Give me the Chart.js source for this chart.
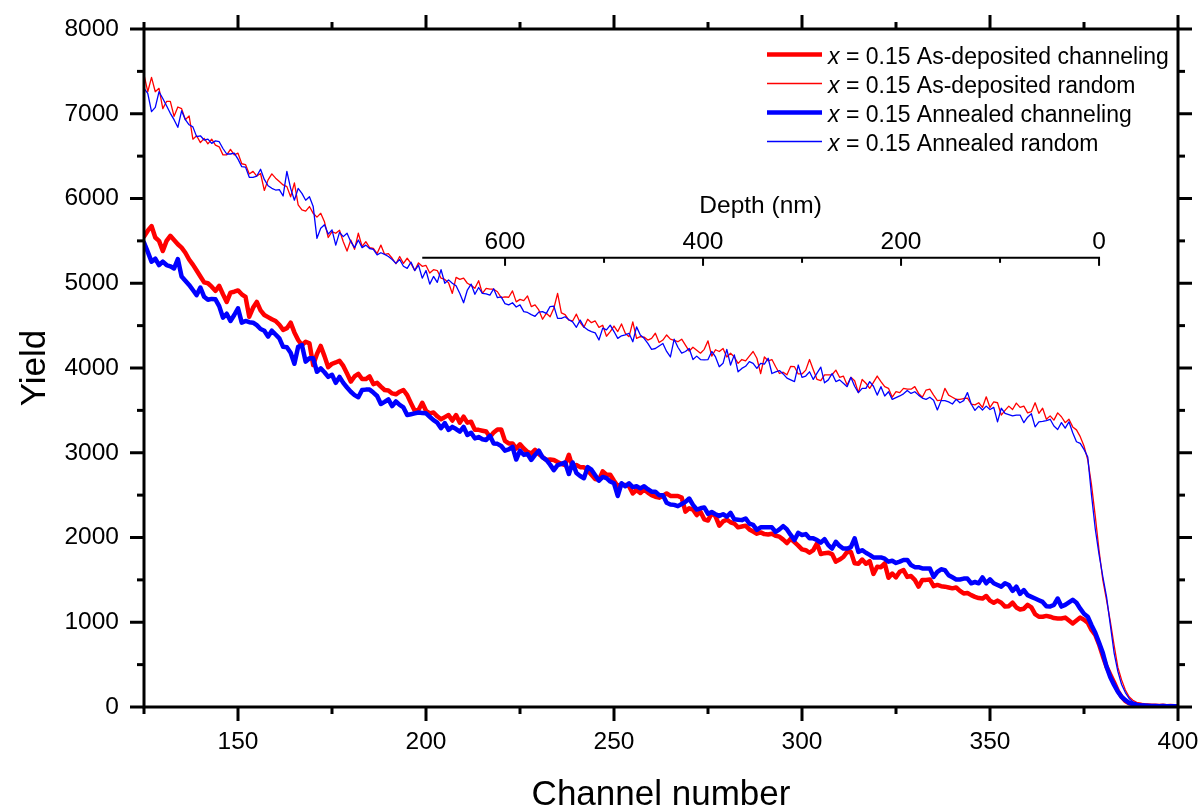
<!DOCTYPE html>
<html><head><meta charset="utf-8">
<script src="https://cdn.jsdelivr.net/npm/chart.js@4.4.1/dist/chart.umd.min.js"></script>
<style>html,body{margin:0;padding:0;background:#fff;overflow:hidden}</style>
</head><body>
<canvas id="c" width="1202" height="812" style="display:block;width:1202px;height:812px"></canvas>
<script>
// ---------------- DATA ----------------
const channelStart = 125, channelEnd = 400;
const channels = [];
for (let c = channelStart; c <= channelEnd; c++) channels.push(c);

const seriesLabels = [
  'x = 0.15 As-deposited channeling',
  'x = 0.15 As-deposited random',
  'x = 0.15 Annealed channeling',
  'x = 0.15 Annealed random'
];

const asDepChanneling = [
5550,5620,5675,5540,5500,5380,5500,5560,5510,5460,
5420,5360,5280,5220,5150,5080,5010,5000,4960,4910,
4970,4870,4780,4890,4900,4915,4870,4840,4605,4710,
4780,4680,4625,4600,4575,4555,4510,4450,4470,4535,
4420,4330,4270,4310,4290,4035,4165,4260,4140,4010,
4050,4065,4085,4025,3935,3840,3900,3930,3870,3870,
3900,3810,3825,3780,3740,3735,3700,3690,3720,3740,
3680,3585,3495,3505,3590,3495,3465,3475,3430,3395,
3420,3445,3380,3445,3355,3425,3355,3365,3270,3270,
3260,3250,3185,3240,3275,3275,3140,3110,3110,3050,
3100,3050,3010,2990,3035,2985,2950,2915,2920,2915,
2890,2870,2855,2975,2830,2855,2830,2830,2790,2740,
2690,2680,2780,2740,2740,2670,2605,2620,2620,2605,
2520,2560,2525,2565,2530,2500,2480,2470,2490,2520,
2490,2490,2490,2470,2305,2345,2330,2265,2305,2215,
2200,2290,2250,2140,2190,2210,2180,2165,2120,2130,
2140,2095,2070,2045,2060,2040,2035,2045,2020,2010,
1975,1935,1985,1945,1905,1860,1850,1820,1850,1930,
1805,1815,1820,1805,1715,1740,1770,1830,1830,1695,
1690,1740,1690,1720,1570,1655,1650,1695,1525,1575,
1530,1595,1615,1535,1545,1500,1420,1500,1500,1505,
1425,1440,1425,1420,1410,1400,1410,1370,1340,1345,
1320,1300,1285,1280,1310,1255,1230,1255,1230,1185,
1190,1230,1175,1150,1160,1205,1175,1095,1065,1065,
1075,1065,1050,1045,1045,1055,1020,985,1020,1055,
1030,995,910,850,740,600,475,380,290,190,
120,70,45,35,28,25,20,18,15,15,
12,15,10,12,10,8
];

const asDepRandom = [
7460,7260,7430,7260,7300,7060,7145,7145,6970,7080,
7060,6930,6975,6700,6740,6660,6710,6645,6700,6630,
6610,6515,6515,6580,6515,6535,6410,6400,6290,6320,
6265,6295,6095,6220,6290,6240,6200,6160,6140,6020,
6185,5925,5865,5850,5905,5825,5780,5825,5725,5540,
5610,5590,5625,5490,5380,5510,5400,5590,5435,5490,
5420,5410,5350,5450,5340,5350,5295,5230,5315,5235,
5295,5235,5150,5240,5200,5210,5120,5160,5150,5060,
5045,5005,4880,5070,5045,5060,5000,4975,4940,5030,
4880,4940,4930,4930,4900,4830,4840,4835,4910,4780,
4810,4795,4850,4725,4745,4685,4575,4645,4605,4705,
4880,4650,4630,4565,4555,4635,4535,4480,4575,4535,
4555,4480,4505,4375,4430,4495,4430,4520,4410,4370,
4545,4350,4370,4365,4330,4350,4410,4300,4330,4390,
4340,4325,4310,4340,4270,4200,4245,4210,4175,4220,
4320,4140,4215,4195,4230,4130,4175,4130,4055,4100,
4085,4140,4195,4115,3935,4130,4085,4100,4015,3935,
3950,3920,4020,4015,3930,3930,3975,4100,3980,3865,
3850,3920,3920,3920,3975,3890,3905,3800,3890,3850,
3710,3865,3820,3760,3830,3905,3840,3780,3760,3655,
3720,3710,3760,3750,3750,3780,3700,3655,3740,3750,
3680,3615,3620,3760,3680,3655,3630,3630,3640,3645,
3575,3565,3590,3535,3660,3535,3600,3590,3445,3500,
3550,3510,3585,3535,3550,3470,3485,3590,3465,3525,
3395,3435,3385,3470,3425,3355,3395,3305,3270,3190,
3080,2915,2620,2250,1850,1500,1260,1010,730,470,
320,200,120,80,55,45,35,30,28,25,
22,25,20,18,22,15
];

const annealedChanneling = [
5480,5370,5255,5290,5215,5255,5215,5200,5175,5285,
5080,5030,4980,4920,4860,4950,4840,4805,4815,4810,
4730,4595,4640,4555,4625,4705,4535,4555,4540,4535,
4505,4460,4440,4370,4440,4395,4350,4250,4245,4180,
4050,4250,4270,4075,4115,4115,3955,3995,3950,3895,
3920,3825,3895,3825,3770,3720,3680,3655,3740,3745,
3745,3710,3670,3575,3600,3630,3550,3605,3565,3535,
3445,3455,3465,3475,3470,3465,3425,3385,3355,3290,
3350,3270,3305,3280,3250,3305,3210,3235,3170,3185,
3160,3150,3200,3110,3105,3080,3025,3040,3070,2920,
3025,2975,2985,2915,2975,3025,2945,2915,2860,2795,
2855,2870,2885,2750,2885,2760,2725,2700,2830,2800,
2735,2670,2715,2700,2660,2640,2490,2640,2605,2640,
2595,2605,2580,2605,2570,2540,2540,2500,2500,2410,
2390,2385,2370,2395,2420,2460,2385,2330,2345,2355,
2280,2300,2275,2255,2275,2245,2290,2215,2210,2205,
2225,2165,2150,2090,2120,2120,2120,2120,2065,2095,
2135,2095,2030,1970,2055,2030,2040,1990,1990,1970,
1940,1980,1910,1870,1950,1900,1870,1870,1885,1990,
1830,1850,1820,1795,1765,1765,1765,1750,1715,1725,
1700,1715,1735,1735,1675,1650,1650,1635,1635,1635,
1535,1595,1625,1615,1555,1530,1505,1505,1515,1515,
1460,1475,1460,1530,1460,1505,1460,1440,1420,1460,
1440,1370,1420,1335,1380,1320,1300,1280,1260,1240,
1190,1185,1205,1280,1185,1205,1235,1265,1230,1160,
1100,1065,965,875,760,640,475,350,260,180,
120,80,50,35,25,20,18,15,12,12,
10,12,8,10,8,5
];

const annealedRandom = [
7300,7240,7025,7075,7260,7180,7095,7005,6930,6840,
7035,6930,6870,6845,6730,6740,6690,6700,6650,6680,
6670,6590,6525,6525,6535,6465,6375,6370,6250,6250,
6265,6345,6225,6150,6120,6100,6105,6030,6320,6120,
5980,6120,6060,5980,6020,5905,5530,5650,5690,5580,
5630,5450,5600,5550,5590,5490,5420,5510,5420,5450,
5410,5400,5335,5360,5340,5315,5280,5235,5280,5200,
5175,5250,5150,5215,5060,5150,4990,5080,5010,5160,
5000,5040,5000,4970,4880,4770,4920,4990,4870,4950,
4880,4875,4860,4935,4830,4840,4760,4745,4770,4720,
4745,4665,4655,4630,4610,4660,4665,4645,4725,4730,
4585,4585,4605,4570,4545,4480,4565,4485,4450,4430,
4415,4330,4470,4450,4505,4430,4350,4380,4390,4410,
4310,4485,4390,4350,4290,4220,4230,4260,4290,4195,
4130,4340,4245,4175,4195,4230,4100,4140,4100,4095,
4100,4195,4130,4015,4055,4220,4035,4155,3955,3995,
4020,4075,4055,3995,4055,4045,4115,3935,3955,3970,
3930,3880,3860,3840,4035,3890,3905,3955,3865,3940,
4010,3825,3860,3935,3840,3860,3820,3780,3890,3785,
3710,3760,3760,3840,3785,3680,3780,3670,3720,3630,
3650,3670,3695,3735,3700,3720,3680,3645,3630,3655,
3620,3505,3615,3615,3600,3575,3630,3590,3615,3710,
3575,3500,3550,3505,3550,3510,3535,3365,3525,3465,
3450,3435,3445,3445,3355,3420,3460,3305,3365,3370,
3380,3395,3315,3275,3355,3290,3365,3235,3130,3110,
3040,2950,2500,2100,1800,1540,1300,970,640,420,
265,170,100,60,45,35,30,25,22,20,
18,20,15,18,15,12
];

const xMajorTicks = [150, 200, 250, 300, 350, 400];
const xMinorTicks = [125, 175, 225, 275, 325, 375];
const yMajorTicks = [0, 1000, 2000, 3000, 4000, 5000, 6000, 7000, 8000];
const yMinorTicks = [500, 1500, 2500, 3500, 4500, 5500, 6500, 7500];

// secondary depth axis (nm)
const depthMajorTicks = [600, 400, 200, 0];
const depthMinorTicks = [500, 300, 100];
const depthSurfaceChannel = 379.0;   // channel at depth 0 nm
const depthNmPerChannel = 3.798;     // nm per channel
const depthAxisStartChannel = 199;   // left end of the depth axis
const depthAxisYield = 5300;         // vertical position of the depth axis (yield units)

// ---------------- CHART ----------------
const FONT = '"Liberation Sans", Arial, Helvetica, sans-serif';
const RED = '#ff0000', BLUE = '#0000ff';
const toPts = arr => channels.map((c, i) => ({x: c, y: arr[i]}));

const seriesStyles = [
  {data: asDepChanneling, color: RED, width: 4.5},
  {data: asDepRandom, color: RED, width: 1.3},
  {data: annealedChanneling, color: BLUE, width: 4.5},
  {data: annealedRandom, color: BLUE, width: 1.3}
];

// drawing order: red random, red channeling, blue random, blue channeling on top
const drawOrder = [2, 3, 0, 1];
const datasets = drawOrder.map(i => ({
  label: seriesLabels[i],
  data: toPts(seriesStyles[i].data),
  borderColor: seriesStyles[i].color,
  borderWidth: seriesStyles[i].width,
  pointRadius: 0,
  tension: 0,
  fill: false,
  borderJoinStyle: 'round',
  borderCapStyle: 'round'
}));

function line(ctx, x1, y1, x2, y2) {
  ctx.beginPath(); ctx.moveTo(x1, y1); ctx.lineTo(x2, y2); ctx.stroke();
}

const decor = {
  id: 'decor',
  afterDraw(chart) {
    const {ctx, chartArea: a} = chart;
    const xs = chart.scales.x, ys = chart.scales.y;
    ctx.save();
    ctx.strokeStyle = '#000';
    ctx.fillStyle = '#000';
    ctx.lineCap = 'butt';
    // frame
    ctx.lineWidth = 3;
    ctx.strokeRect(a.left, a.top, a.right - a.left, a.bottom - a.top);
    // ticks
    const MAJ = 14, MIN = 7;
    xMajorTicks.forEach(v => { const p = xs.getPixelForValue(v); line(ctx, p, a.bottom, p, a.bottom + MAJ); line(ctx, p, a.top, p, a.top - MAJ); });
    xMinorTicks.forEach(v => { const p = xs.getPixelForValue(v); line(ctx, p, a.bottom, p, a.bottom + MIN); line(ctx, p, a.top, p, a.top - MIN); });
    yMajorTicks.forEach(v => { const p = ys.getPixelForValue(v); line(ctx, a.left - MAJ, p, a.left, p); line(ctx, a.right, p, a.right + MAJ, p); });
    yMinorTicks.forEach(v => { const p = ys.getPixelForValue(v); line(ctx, a.left - MIN, p, a.left, p); line(ctx, a.right, p, a.right + MIN, p); });

    // depth axis
    const depthCh = d => depthSurfaceChannel - d / depthNmPerChannel;
    const dy = ys.getPixelForValue(depthAxisYield);
    const dx0 = xs.getPixelForValue(depthAxisStartChannel);
    const dx1 = xs.getPixelForValue(depthCh(0));
    ctx.lineWidth = 2;
    line(ctx, dx0, dy, dx1 + 1, dy);
    ctx.font = '24.5px ' + FONT;
    ctx.textAlign = 'center';
    ctx.textBaseline = 'alphabetic';
    depthMajorTicks.forEach(d => {
      const p = xs.getPixelForValue(depthCh(d));
      line(ctx, p, dy, p, dy + 8);
      ctx.fillText(String(d), p, dy - 9);
    });
    depthMinorTicks.forEach(d => {
      const p = xs.getPixelForValue(depthCh(d));
      line(ctx, p, dy, p, dy + 5);
    });
    ctx.fillText('Depth (nm)', (dx0 + dx1) / 2, dy - 45);

    // axis titles
    ctx.font = '35px ' + FONT;
    ctx.textAlign = 'center';
    ctx.fillText('Channel number', (a.left + a.right) / 2, 805);
    ctx.save();
    ctx.translate(45, (a.top + a.bottom) / 2);
    ctx.rotate(-Math.PI / 2);
    ctx.fillText('Yield', 0, 0);
    ctx.restore();

    // legend
    ctx.textAlign = 'left';
    seriesLabels.forEach((lab, i) => {
      const st = seriesStyles[i];
      const base = 63.5 + i * 29;
      ctx.strokeStyle = st.color;
      ctx.lineWidth = st.width;
      line(ctx, 767, base - 9, 822, base - 9);
      ctx.font = 'italic 23px ' + FONT;
      ctx.fillText(lab.charAt(0), 828, base);
      const w = ctx.measureText(lab.charAt(0)).width;
      ctx.font = '23px ' + FONT;
      ctx.fillText(lab.slice(1), 828 + w, base);
    });
    ctx.restore();
  }
};

Chart.defaults.font.family = FONT;
Chart.defaults.color = '#000';

new Chart(document.getElementById('c'), {
  type: 'line',
  data: {datasets},
  options: {
    responsive: false,
    animation: false,
    events: [],
    layout: {padding: 0},
    plugins: {legend: {display: false}, tooltip: {enabled: false}},
    scales: {
      x: {
        type: 'linear', position: 'bottom', min: channelStart, max: channelEnd,
        grid: {display: false, drawTicks: false, tickLength: 0},
        border: {display: false},
        afterBuildTicks: s => { s.ticks = xMajorTicks.map(v => ({value: v})); },
        afterFit: s => { s.height = 105; s.paddingLeft = 0; s.paddingRight = 0; },
        ticks: {font: {size: 24.5}, padding: 21, maxRotation: 0, autoSkip: false, callback: v => String(v)}
      },
      x2: {
        type: 'linear', position: 'top', min: channelStart, max: channelEnd,
        grid: {display: false, drawTicks: false}, border: {display: false},
        ticks: {display: false},
        afterFit: s => { s.height = 29; s.paddingLeft = 0; s.paddingRight = 0; }
      },
      y: {
        type: 'linear', position: 'left', min: 0, max: 8000,
        grid: {display: false, drawTicks: false, tickLength: 0},
        border: {display: false},
        afterBuildTicks: s => { s.ticks = yMajorTicks.map(v => ({value: v})); },
        afterFit: s => { s.width = 144; s.paddingTop = 0; s.paddingBottom = 0; },
        ticks: {font: {size: 24.5}, padding: 25, autoSkip: false, callback: v => String(v)}
      },
      y2: {
        type: 'linear', position: 'right', min: 0, max: 8000,
        grid: {display: false, drawTicks: false}, border: {display: false},
        ticks: {display: false},
        afterFit: s => { s.width = 24; s.paddingTop = 0; s.paddingBottom = 0; }
      }
    }
  },
  plugins: [decor]
});
</script>
</body></html>
